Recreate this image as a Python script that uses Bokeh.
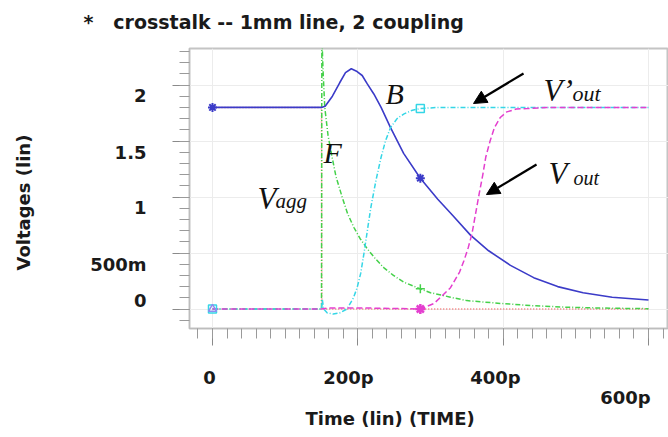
from bokeh.plotting import figure
from bokeh.models import (Label, Arrow, NormalHead, LinearAxis, SingleIntervalTicker,
                          FixedTicker, Range1d, Grid, Title)
from bokeh.embed import file_html
from bokeh.resources import INLINE

# ---------------- data (time in ps, voltage in V) ----------------
vagg_t = [0, 150, 150.5, 600]
vagg_v = [1.8, 1.8, 0.0, 0.0]

far_t = [0, 150, 150.5, 152, 154.5, 159, 164.6, 170, 178.4, 186, 194.4, 203, 212.7, 224,
         235.6, 249, 263, 286, 300, 318, 327.5, 350, 396, 440, 488, 540, 600]
far_v = [0, 0, 2.45, 2.15, 1.80, 1.55, 1.355, 1.18, 1.0, 0.85, 0.73, 0.63, 0.54, 0.45,
         0.37, 0.30, 0.24, 0.18, 0.145, 0.12, 0.105, 0.075, 0.05, 0.03, 0.016, 0.008, 0.003]

near_t = [0, 150, 155, 165, 175, 183, 191, 199, 206, 213, 222, 232, 245, 263, 286, 310,
          330, 355, 380, 410, 442, 475, 510, 550, 600]
near_v = [1.8, 1.8, 1.81, 1.90, 2.02, 2.11, 2.145, 2.12, 2.085, 2.01, 1.92, 1.80, 1.62,
          1.39, 1.168, 0.98, 0.84, 0.66, 0.52, 0.39, 0.28, 0.20, 0.145, 0.105, 0.08]

voutp_t = [0, 150, 151, 153, 158, 166, 175, 185, 194, 199, 204, 209, 214, 218, 225, 232,
           238, 245, 254, 263, 275, 286, 310, 600]
voutp_v = [0, 0, 0.09, 0.0, -0.035, -0.045, -0.035, 0.0, 0.10, 0.19, 0.32, 0.52, 0.74,
           0.91, 1.15, 1.355, 1.50, 1.62, 1.70, 1.74, 1.775, 1.79, 1.80, 1.80]

vout_t = [0, 150, 160, 200, 250, 286, 305, 327.5, 340, 346, 352, 357, 362, 367, 372, 376,
          382, 388, 396, 405, 418, 433, 460, 600]
vout_v = [0, 0, 0.01, 0.01, 0.005, 0.0, 0.05, 0.19, 0.33, 0.43, 0.55, 0.67, 0.85, 1.03,
          1.2, 1.355, 1.5, 1.62, 1.71, 1.76, 1.785, 1.79, 1.80, 1.80]

marker_times = [0, 286]

x_tick_labels = ["0", "200p", "400p", "600p"]
y_tick_labels = ["2", "1.5", "1", "500m", "0"]

# ---------------- figure ----------------
p = figure(width=668, height=437, output_backend="svg", toolbar_location=None,
           x_range=Range1d(-31.65, 627.5), y_range=Range1d(-0.174, 2.326),
           x_axis_type=None, y_axis_type=None,
           min_border_left=189, min_border_right=0, min_border_top=48,
           min_border_bottom=109)
p.background_fill_color = "white"
p.border_fill_color = "white"
p.outline_line_color = "#c4c4c4"
p.outline_line_width = 2

SANS = "DejaVu Sans"
xt = SingleIntervalTicker(interval=200, num_minor_ticks=10)
yt = SingleIntervalTicker(interval=0.5, num_minor_ticks=5)

# tick-only axes right next to the frame
for tk, loc in ((xt, "below"), (yt, "left")):
    ax = LinearAxis(ticker=tk)
    ax.major_label_text_color = None
    ax.major_label_text_font_size = "1px"
    ax.major_label_standoff = 0
    ax.axis_line_color = "#bdbdbd"
    ax.major_tick_line_color = "#8a8a8a"
    ax.minor_tick_line_color = "#9a9a9a"
    ax.major_tick_in = 0
    ax.minor_tick_in = 0
    ax.major_tick_out = 17
    ax.minor_tick_out = 10
    p.add_layout(ax, loc)

# label axes (the original's labels sit a little off their ticks)
def label_axis(pos, labels, standoff):
    ax = LinearAxis(ticker=FixedTicker(ticks=pos, minor_ticks=[]))
    ax.major_label_overrides = {v: t for v, t in zip(pos, labels)}
    ax.axis_line_color = None
    ax.major_tick_line_color = None
    ax.major_tick_in = 0
    ax.major_tick_out = 0
    ax.minor_tick_in = 0
    ax.minor_tick_out = 0
    ax.major_label_standoff = standoff
    ax.major_label_text_font = SANS
    ax.major_label_text_font_style = "bold"
    ax.major_label_text_font_size = "18px"
    ax.major_label_text_color = "#1a1a1a"
    return ax

# empty, invisible gap between panels
def spacer(loc, d, at_value):
    ax = LinearAxis(ticker=FixedTicker(ticks=[at_value], minor_ticks=[]))
    ax.axis_line_color = None
    ax.major_tick_line_color = None
    ax.minor_tick_line_color = None
    ax.major_tick_in = 0
    ax.major_tick_out = d
    ax.minor_tick_in = 0
    ax.minor_tick_out = 0
    ax.major_label_standoff = 0
    ax.major_label_text_color = None
    ax.major_label_text_font_size = "1px"
    p.add_layout(ax, loc)

def title(text, loc, align, offset, standoff, size="18px"):
    p.add_layout(Title(text=text, align=align, offset=offset, standoff=standoff,
                       text_font=SANS, text_font_style="bold", text_font_size=size,
                       text_color="#1a1a1a"), loc)

p.add_layout(label_axis([1.906, 1.393, 0.906, 0.397, 0.076], y_tick_labels, 26), "left")
p.add_layout(label_axis([-4.1, 187.1, 389.4], x_tick_labels[:3], 21), "below")
p.add_layout(label_axis([568.3], x_tick_labels[3:], -4), "below")

title("Time (lin) (TIME)", "below", "left", 116, -10)
spacer("left", 54, 1.0)
title("Voltages (lin)", "left", "left", 58, 0)
spacer("above", 16, 300)
title("*\u00a0\u00a0\u00a0crosstalk -- 1mm line, 2 coupling", "above", "left", -106, 0,
      size="19px")

p.add_layout(Grid(dimension=0, ticker=xt, grid_line_color="#ececec", grid_line_width=1))
p.add_layout(Grid(dimension=1, ticker=yt, grid_line_color="#ececec", grid_line_width=1))

# ---------------- curves ----------------
RED, GREEN, BLUE, CYAN, PINK = "#f26b6b", "#45d14a", "#3b3bc8", "#35d6e6", "#e43fcf"

p.line(vagg_t, vagg_v, line_color=RED, line_width=1.5, line_dash="1 2")
p.line(far_t, far_v, line_color=GREEN, line_width=1.5, line_dash="5 2 1 2")
p.line(near_t, near_v, line_color=BLUE, line_width=1.6)
p.line(voutp_t, voutp_v, line_color=CYAN, line_width=1.5, line_dash="5 2 1 2")
p.line(vout_t, vout_v, line_color=PINK, line_width=1.5, line_dash="6 3")

def at(ts, vs, times):
    return [vs[ts.index(t)] for t in times]

p.scatter(marker_times, at(near_t, near_v, marker_times), marker="asterisk",
          size=9, line_color=BLUE, line_width=2)
p.scatter(marker_times, at(voutp_t, voutp_v, marker_times), marker="square",
          size=8, line_color=CYAN, fill_color=None, line_width=1.5)
p.scatter([marker_times[1]], at(far_t, far_v, marker_times[1:]), marker="cross",
          size=9, line_color=GREEN, line_width=1.5)
p.scatter([marker_times[1]], at(vout_t, vout_v, marker_times[1:]), marker="asterisk",
          size=10, line_color=PINK, line_width=2.5)
p.scatter([marker_times[0]], at(vout_t, vout_v, marker_times[:1]), marker="triangle",
          size=8, line_color="#8f8cf0", fill_color=None, line_width=1.5)

# ---------------- in-plot annotations ----------------
SERIF = "Liberation Serif"
def it(x, y, text, size):
    p.add_layout(Label(x=x, y=y, text=text, text_font=SERIF, text_font_size=size,
                       text_font_style="italic", text_align="left",
                       text_baseline="alphabetic", text_color="#111111"))

it(238, 1.924, "B", "30px")
it(152.7, 1.397, "F", "30px")
it(62, 0.987, "V", "31px")
it(86.7, 0.96, "agg", "21px")
it(455.5, 1.951, "V\u2019", "31px")
it(495.4, 1.924, "out", "22px")
it(462.4, 1.21, "V", "31px")
it(496.8, 1.174, "out", "20px")

for xs, ys, xe, ye in ((428, 2.103, 359.2, 1.835), (445.9, 1.29, 377, 1.022)):
    p.add_layout(Arrow(end=NormalHead(size=13, fill_color="black", line_color="black"),
                       x_start=xs, y_start=ys, x_end=xe, y_end=ye,
                       line_width=2.2, line_color="black"))

open("out.html", "w").write(file_html(p, INLINE))
